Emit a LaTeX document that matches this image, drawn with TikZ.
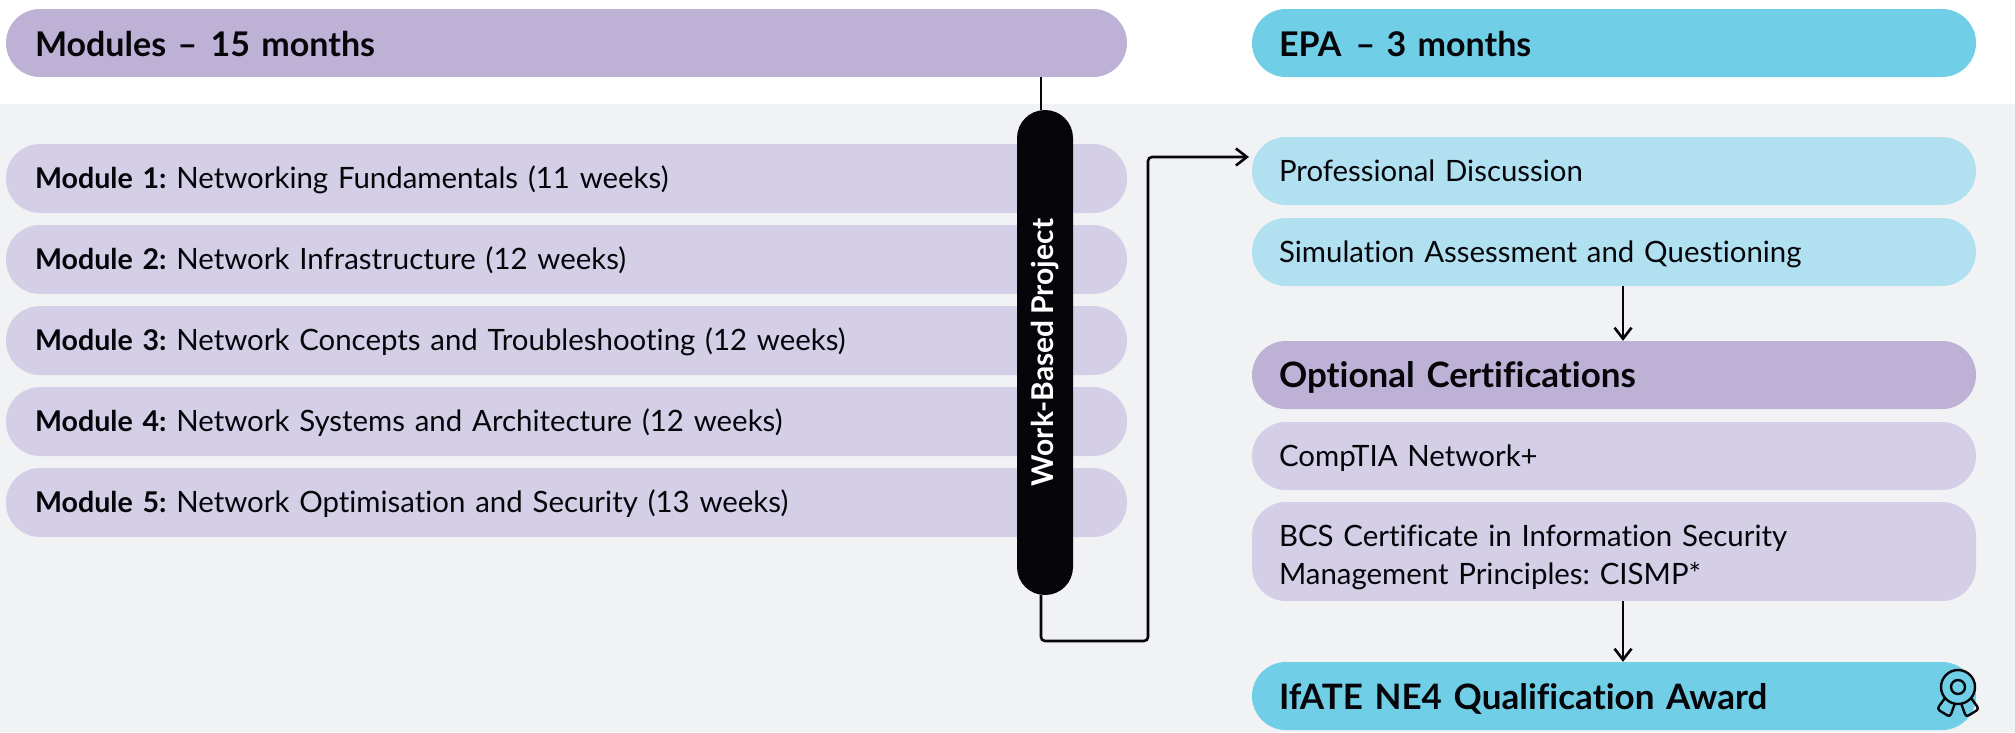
\documentclass[tikz,border=0pt]{standalone}
\usepackage{fontspec}
\setmainfont[Ligatures=NoCommon,WordSpace=0.8]{Lato}
\usetikzlibrary{arrows.meta}
\definecolor{headp}{HTML}{BDB1D5}
\definecolor{lightp}{HTML}{D4CFE6}
\definecolor{headb}{HTML}{70CFE6}
\definecolor{lightb}{HTML}{B1E0F0}
\definecolor{bgg}{HTML}{F1F2F4}
\definecolor{ink}{HTML}{05050A}
\newcommand{\pillpad}{28}
\newcommand{\pill}[7]{%
  \pgfmathsetmacro{\pw}{#4-#2}\pgfmathsetmacro{\ph}{#5-#3}%
  \pgfmathsetmacro{\tw}{\pw-2*\pillpad}%
  \node[pillbox,#6,inner xsep=\pillpad pt,minimum width=\pw pt,minimum height=\ph pt,text width=\tw pt] (#1) at ({(#2+#4)/2},{(#3+#5)/2}) {\frenchspacing #7};}
% one line whose baseline lies half of #1 below the centre of the pill
\newcommand{\setline}[2]{\rule{0pt}{#1pt}\smash{#2}}
\newcommand{\modlabel}[1]{{\fontsize{28.6}{37}\selectfont\bfseries #1}}
\tikzset{
  pillbox/.style={rectangle,rounded corners=34pt,inner ysep=0pt,align=left,text=ink},
  big/.style={font=\fontsize{35}{38.5}\selectfont\bfseries},
  headtxt/.style={font=\fontsize{34}{38.5}\selectfont\bfseries},
  small/.style={font=\fontsize{29.4}{38.5}\selectfont},
  wire/.style={draw=ink,line width=2.6pt,rounded corners=4pt},
  tip/.style={-{Straight Barb[length=11pt,width=17pt,line width=2.6pt]}}
}
\begin{document}
\begin{tikzpicture}[x=1pt,y=-1pt]
\useasboundingbox (0,0) rectangle (2015,732);
\fill[white] (0,0) rectangle (2015,732);
\fill[bgg] (0,104) rectangle (2015,732);
\renewcommand{\pillpad}{29}
\pill{hmod}{6}{9}{1127}{77}{headtxt,fill=headp}{\setline{26}{Modules – \hspace{2pt}15 months}}
\pill{m1}{6}{144}{1127}{213}{small,fill=lightp}{\setline{20}{\modlabel{Module 1:} Networking Fundamentals (11 weeks)}}
\pill{m2}{6}{225}{1127}{294}{small,fill=lightp}{\setline{20}{\modlabel{Module 2:} Network Infrastructure (12 weeks)}}
\pill{m3}{6}{306}{1127}{375}{small,fill=lightp}{\setline{20}{\modlabel{Module 3:} Network Concepts and Troubleshooting (12 weeks)}}
\pill{m4}{6}{387}{1127}{456}{small,fill=lightp}{\setline{20}{\modlabel{Module 4:} Network Systems and Architecture (12 weeks)}}
\pill{m5}{6}{468}{1127}{537}{small,fill=lightp}{\setline{20}{\modlabel{Module 5:} Network Optimisation and Security (13 weeks)}}
\renewcommand{\pillpad}{27}
\pill{hepa}{1252}{9}{1976}{77}{headtxt,fill=headb}{\setline{26}{EPA\hspace{14pt}– 3 months}}
\pill{prof}{1252}{137}{1976}{205}{small,fill=lightb}{\setline{20}{Professional Discussion}}
\pill{sim}{1252}{218}{1976}{286}{small,fill=lightb}{\setline{20}{Simulation Assessment and Questioning}}
\pill{opt}{1252}{341}{1976}{409}{big,fill=headp}{\setline{25}{Optional Certifications}}
\pill{comp}{1252}{422}{1976}{490}{small,fill=lightp}{\setline{20}{CompTIA Network+}}
\pill{bcs}{1252}{502}{1976}{601}{small,fill=lightp}{\setline{27.5}{BCS Certificate in Information Security}\\\smash{Management Principles: CISMP*}}
\pill{ifate}{1252}{662}{1976}{730}{big,fill=headb}{\setline{26}{IfATE NE4 Qualification Award}}
\node[rectangle,rounded corners=27.9pt,fill=ink,minimum width=485pt,minimum height=56pt,inner sep=0pt,rotate=90,text=white,font=\fontsize{30}{30}\selectfont\bfseries] (wbp) at (1045,352.5) {Work-Based Project};
\coordinate (wbpt) at (1041,110);
\coordinate (wbpb) at (1041,595);
\coordinate (hb) at (1041,77);
\coordinate (tipa) at (1249,157);
\draw[wire] (hb) -- (wbpt);
\draw[wire,tip] (wbpb) -- (1041,641) -- (1148,641) -- (1148,157) -- (tipa);
\draw[wire,tip] (sim.south -| 1623,0) -- (opt.north -| 1623,0);
\draw[wire,tip] (bcs.south -| 1623,0) -- (ifate.north -| 1623,0);
\begin{scope}[draw=ink,line width=2.4pt]
\node[circle,draw=ink,line width=2.4pt,minimum size=34pt,inner sep=0pt] (medo) at (1958,687) {};
\node[circle,draw=ink,line width=2.4pt,minimum size=14pt,inner sep=0pt] (medi) at (1958,687) {};
\draw[rounded corners=3pt,line join=round] (1945,698) -- (1937,709) -- (1950,717) -- (1955,703);
\draw[rounded corners=3pt,line join=round] (1971,698) -- (1979,709) -- (1966,717) -- (1961,703);
\end{scope}
\end{tikzpicture}
\end{document}
